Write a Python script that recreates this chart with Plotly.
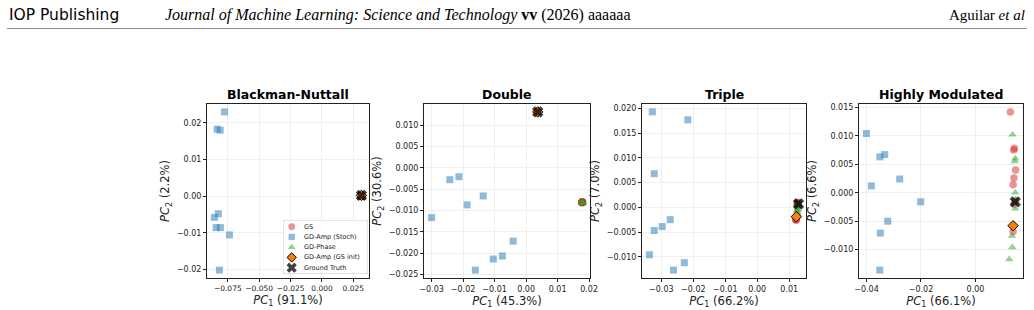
import plotly.graph_objects as go

W, H = 1034, 310

# ---------------- data ----------------
panel_titles = ["Blackman-Nuttall", "Double", "Triple", "Highly Modulated"]
pc1_var = ["91.1%", "45.3%", "66.2%", "66.1%"]
pc2_var = ["2.2%", "30.6%", "7.0%", "6.6%"]
methods = ["GS", "GD-Amp (Stoch)", "GD-Phase", "GD-Amp (GS init)", "Ground Truth"]

# Blackman-Nuttall
bn_gs_x = [0.0312, 0.0315, 0.0313, 0.0316, 0.0314, 0.0313, 0.0315, 0.0314, 0.0312]
bn_gs_y = [0.0003, 0.0001, 0.0002, 0.0000, 0.0004, 0.0001, 0.0002, 0.0003, 0.0001]
bn_st_x = [-0.0776, -0.0835, -0.0811, -0.0825, -0.0857, -0.0843, -0.0809, -0.0737, -0.0817]
bn_st_y = [0.0230, 0.0183, 0.0180, -0.0048, -0.0058, -0.0086, -0.0086, -0.0106, -0.0202]
bn_ph_x = [0.0313, 0.0315, 0.0314, 0.0316, 0.0313, 0.0314, 0.0315, 0.0312, 0.0314]
bn_ph_y = [-0.0004, -0.0005, -0.0003, -0.0004, -0.0005, -0.0002, -0.0004, -0.0003, -0.0005]
bn_dm_x = [0.0314]
bn_dm_y = [0.0002]
bn_gt_x = [0.0314]
bn_gt_y = [0.0002]

# Double
db_gs_x = [0.0178, 0.0179, 0.0177, 0.0178, 0.0179, 0.0178, 0.0177, 0.0178, 0.0179]
db_gs_y = [-0.0081, -0.0080, -0.0081, -0.0082, -0.0081, -0.0080, -0.0081, -0.0081, -0.0082]
db_st_x = [-0.0300, -0.0242, -0.0213, -0.0187, -0.0136, -0.0041, -0.0075, -0.0104, -0.0161]
db_st_y = [-0.0117, -0.0028, -0.0021, -0.0087, -0.0066, -0.0172, -0.0207, -0.0214, -0.0240]
db_ph_x = [0.0179, 0.0178, 0.0179, 0.0178, 0.0179, 0.0178, 0.0179, 0.0178, 0.0179]
db_ph_y = [-0.0082, -0.0081, -0.0082, -0.0082, -0.0081, -0.0082, -0.0082, -0.0081, -0.0082]
db_dm_x = [0.0037]
db_dm_y = [0.0131]
db_gt_x = [0.0037]
db_gt_y = [0.0131]

# Triple
tr_gs_x = [0.0125, 0.0127, 0.0124, 0.0121, 0.0122, 0.0126, 0.0123, 0.0120, 0.0128]
tr_gs_y = [0.0008, 0.0010, 0.0005, -0.0024, -0.0026, 0.0009, -0.0020, -0.0025, 0.0006]
tr_st_x = [-0.0328, -0.0217, -0.0322, -0.0272, -0.0297, -0.0322, -0.0337, -0.0228, -0.0262]
tr_st_y = [0.0193, 0.0177, 0.0068, -0.0025, -0.0039, -0.0047, -0.0096, -0.0112, -0.0127]
tr_ph_x = [0.0128, 0.0127, 0.0126, 0.0125, 0.0124, 0.0127, 0.0126, 0.0125, 0.0128]
tr_ph_y = [0.0004, 0.0001, -0.0003, -0.0008, -0.0013, 0.0006, -0.0005, -0.0011, 0.0002]
tr_dm_x = [0.0122]
tr_dm_y = [-0.0019]
tr_gt_x = [0.0129]
tr_gt_y = [0.0007]

# Highly Modulated
hm_gs_x = [0.0128, 0.0143, 0.0140, 0.0147, 0.0141, 0.0138, 0.0138, 0.0145, 0.0142]
hm_gs_y = [0.0142, 0.0078, 0.0075, 0.0040, 0.0026, 0.0014, -0.0068, -0.0015, -0.0020]
hm_st_x = [-0.0400, -0.0333, -0.0351, -0.0278, -0.0382, -0.0201, -0.0322, -0.0349, -0.0351]
hm_st_y = [0.0104, 0.0067, 0.0063, 0.0024, 0.0012, -0.0016, -0.0050, -0.0071, -0.0136]
hm_ph_x = [0.0136, 0.0146, 0.0144, 0.0146, 0.0146, 0.0134, 0.0135, 0.0124, 0.0146]
hm_ph_y = [0.0102, 0.0060, 0.0055, 0.0000, -0.0028, -0.0076, -0.0096, -0.0117, -0.0012]
hm_dm_x = [0.0138]
hm_dm_y = [-0.0058]
hm_gt_x = [0.0146]
hm_gt_y = [-0.0016]

panels = [
    (bn_gs_x, bn_gs_y, bn_st_x, bn_st_y, bn_ph_x, bn_ph_y, bn_dm_x, bn_dm_y, bn_gt_x, bn_gt_y),
    (db_gs_x, db_gs_y, db_st_x, db_st_y, db_ph_x, db_ph_y, db_dm_x, db_dm_y, db_gt_x, db_gt_y),
    (tr_gs_x, tr_gs_y, tr_st_x, tr_st_y, tr_ph_x, tr_ph_y, tr_dm_x, tr_dm_y, tr_gt_x, tr_gt_y),
    (hm_gs_x, hm_gs_y, hm_st_x, hm_st_y, hm_ph_x, hm_ph_y, hm_dm_x, hm_dm_y, hm_gt_x, hm_gt_y),
]

# tick values / labels
x_tickvals = [
    [-0.075, -0.050, -0.025, 0.0, 0.025],
    [-0.03, -0.02, -0.01, 0.0, 0.01, 0.02],
    [-0.03, -0.02, -0.01, 0.0, 0.01],
    [-0.04, -0.02, 0.0],
]
x_ticktext = [
    ["−0.075", "−0.050", "−0.025", "0.000", "0.025"],
    ["−0.03", "−0.02", "−0.01", "0.00", "0.01", "0.02"],
    ["−0.03", "−0.02", "−0.01", "0.00", "0.01"],
    ["−0.04", "−0.02", "0.00"],
]
y_tickvals = [
    [-0.02, -0.01, 0.0, 0.01, 0.02],
    [-0.025, -0.020, -0.015, -0.010, -0.005, 0.0, 0.005, 0.010],
    [-0.010, -0.005, 0.0, 0.005, 0.010, 0.015, 0.020],
    [-0.015, -0.010, -0.005, 0.0, 0.005, 0.010, 0.015],
]
y_ticktext = [
    ["−0.02", "−0.01", "0.00", "0.01", "0.02"],
    ["−0.025", "−0.020", "−0.015", "−0.010", "−0.005", "0.000", "0.005", "0.010"],
    ["−0.010", "−0.005", "0.000", "0.005", "0.010", "0.015", "0.020"],
    ["−0.015", "−0.010", "−0.005", "0.000", "0.005", "0.010", "0.015"],
]

# ---------------- style ----------------
FONT = "DejaVu Sans"
INK = "#222222"
styles = [
    dict(symbol="circle", color="rgba(214,39,40,0.5)", size=7.5, line=dict(width=0)),
    dict(symbol="square", color="rgba(31,119,180,0.5)", size=7, line=dict(width=0)),
    dict(symbol="triangle-up", color="rgba(44,160,44,0.5)", size=7.5, line=dict(width=0)),
    dict(symbol="diamond", color="#ff7f0e", size=8, line=dict(width=1, color="black")),
    dict(symbol="x", color="rgba(0,0,0,0.75)", size=10, line=dict(width=0)),
]

# pixel layout of the four axes boxes
x_px = [(207, 369), (424, 590), (642, 806), (859, 1023)]
y_px = (104, 278)
x_tick_font = [7.5, 8, 8, 8]


def pad_range(vals):
    lo, hi = min(vals), max(vals)
    m = (hi - lo) * 0.05
    return [lo - m, hi + m]


fig = go.Figure()
layout = dict(
    width=W, height=H, margin=dict(l=0, r=0, t=0, b=0),
    paper_bgcolor="white", plot_bgcolor="white",
    template="none", showlegend=False,
    font=dict(family=FONT, color=INK),
)
annotations = []
shapes = []

for i, p in enumerate(panels):
    n = i + 1
    xa = "x" if n == 1 else f"x{n}"
    ya = "y" if n == 1 else f"y{n}"
    xs_all, ys_all = [], []
    for k in range(5):
        xs, ys = p[2 * k], p[2 * k + 1]
        xs_all += xs
        ys_all += ys
        fig.add_trace(go.Scatter(x=xs, y=ys, mode="markers", marker=styles[k],
                                 xaxis=xa, yaxis=ya, name=methods[k],
                                 hoverinfo="skip"))
    x0, x1 = x_px[i]
    dom_x = [x0 / W, x1 / W]
    dom_y = [1 - y_px[1] / H, 1 - y_px[0] / H]
    common = dict(showline=True, mirror=True, linecolor=INK, linewidth=1,
                  ticks="outside", ticklen=3, tickwidth=1, tickcolor=INK,
                  showgrid=True, gridcolor="#efefef", gridwidth=1,
                  zeroline=False, automargin=False, tickangle=0,
                  ticklabeloverflow="allow")
    layout["xaxis" if n == 1 else f"xaxis{n}"] = dict(
        common, domain=dom_x, anchor=ya, range=pad_range(xs_all),
        tickmode="array", tickvals=x_tickvals[i], ticktext=x_ticktext[i],
        tickfont=dict(family=FONT, size=x_tick_font[i], color=INK),
        title=dict(text=f"<i>PC</i><sub>1</sub> ({pc1_var[i]})",
                   font=dict(family=FONT, size=11.5, color=INK), standoff=1))
    layout["yaxis" if n == 1 else f"yaxis{n}"] = dict(
        common, domain=dom_y, anchor=xa, range=pad_range(ys_all),
        tickmode="array", tickvals=y_tickvals[i], ticktext=y_ticktext[i],
        tickfont=dict(family=FONT, size=8, color=INK),
        title=dict(text=f"<i>PC</i><sub>2</sub> ({pc2_var[i]})",
                   font=dict(family=FONT, size=11.5, color=INK), standoff=4))
    annotations.append(dict(
        text=f"<b>{panel_titles[i]}</b>", xref="paper", yref="paper",
        x=(x0 + x1) / 2 / W, y=1 - 94 / H, xanchor="center", yanchor="middle",
        showarrow=False, font=dict(family=FONT, size=12.5, color="black")))

# ---------------- legend (drawn on an overlay axis inside panel 1) ----------------
LEG_W, LEG_H = 85, 54
leg_box = (283, 220)
layout["xaxis5"] = dict(domain=[leg_box[0] / W, (leg_box[0] + LEG_W) / W],
                        range=[0, LEG_W], visible=False, anchor="y5",
                        fixedrange=True, automargin=False)
layout["yaxis5"] = dict(domain=[1 - (leg_box[1] + LEG_H) / H, 1 - leg_box[1] / H],
                        range=[0, LEG_H], visible=False, anchor="x5",
                        fixedrange=True, automargin=False)
r = 2.5
shapes.append(dict(
    type="path", xref="x5", yref="y5", layer="below",
    path=(f"M {r},0 L {LEG_W - r},0 Q {LEG_W},0 {LEG_W},{r} L {LEG_W},{LEG_H - r} "
          f"Q {LEG_W},{LEG_H} {LEG_W - r},{LEG_H} L {r},{LEG_H} Q 0,{LEG_H} 0,{LEG_H - r} "
          f"L 0,{r} Q 0,0 {r},0 Z"),
    fillcolor="rgba(255,255,255,0.85)", line=dict(color="#cccccc", width=1)))
for k, name in enumerate(methods):
    yk = LEG_H - 6.7 - 10.25 * k
    st = dict(styles[k])
    st["size"] = st["size"] * 0.9
    fig.add_trace(go.Scatter(x=[8.7], y=[yk], mode="markers", marker=st,
                             xaxis="x5", yaxis="y5", hoverinfo="skip"))
    annotations.append(dict(text=name, xref="x5", yref="y5", x=19, y=yk,
                            xanchor="left", yanchor="middle", showarrow=False,
                            font=dict(family=FONT, size=6.5, color=INK)))

# ---------------- page header ----------------
annotations.append(dict(text="IOP Publishing", xref="paper", yref="paper",
                        x=7 / W, y=1 - 15 / H, xanchor="left", yanchor="middle",
                        showarrow=False,
                        font=dict(family="DejaVu Sans", size=15.5, color="black")))
annotations.append(dict(
    text="<i>Journal of Machine Learning: Science and Technology</i> <b>vv</b> (2026) aaaaaa",
    xref="paper", yref="paper", x=163 / W, y=1 - 15 / H, xanchor="left",
    yanchor="middle", showarrow=False,
    font=dict(family="Liberation Serif", size=16, color="black")))
annotations.append(dict(text="Aguilar <i>et al</i>", xref="paper", yref="paper",
                        x=1027 / W, y=1 - 15 / H, xanchor="right", yanchor="middle",
                        showarrow=False,
                        font=dict(family="Liberation Serif", size=15, color="black")))
shapes.append(dict(type="line", xref="paper", yref="paper",
                   x0=7 / W, x1=1027 / W, y0=1 - 28.5 / H, y1=1 - 28.5 / H,
                   line=dict(color="#8c8c8c", width=1)))

layout["annotations"] = annotations
layout["shapes"] = shapes
fig.update_layout(**layout)
fig.write_html("out.html")
